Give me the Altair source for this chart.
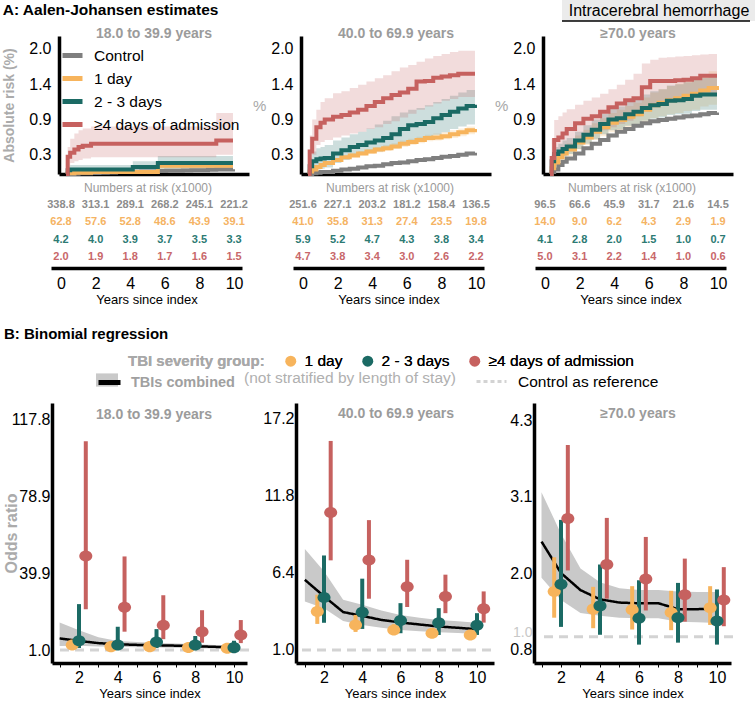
import altair as alt
import pandas as pd

FONT = "Liberation Sans"

# ---------------- labels / categories ----------------
PANELS = ["18.0 to 39.9 years", "40.0 to 69.9 years", "≥70.0 years"]
STRIP_LABEL = "Intracerebral hemorrhage"
GROUPS_A = ["Control", "1 day", "2 - 3 days", "≥4 days of admission"]
GROUPS_B = ["1 day", "2 - 3 days", "≥4 days of admission"]
LINE_COLORS = ["#7f7f7f", "#f7b45c", "#1b6a64", "#c6615f"]
TABLE_COLORS = ["#8c8c8c", "#f5b363", "#2c7a73", "#c8676a"]
POINT_COLORS = ["#f7b45c", "#1b6a64", "#c6615f"]
COMB_LABEL = "TBIs combined"
CI_LABEL = "TBIs combined 95% CI"
REF_LABEL = "Control as reference"

# ---------------- A: Aalen-Johansen curves (absolute risk, %) ----------------
T_GRID = [0, 0.1, 0.25, 0.5, 0.75, 1, 1.5, 2, 2.5, 3, 3.5, 4, 4.5, 5, 5.5, 6, 6.5, 7, 7.5, 8, 8.5, 9, 9.5, 10]

A1_CONTROL = [0, 0, 0, 0.005, 0.01, 0.01, 0.015, 0.02, 0.025, 0.03, 0.03, 0.035, 0.04, 0.04, 0.045, 0.05, 0.05, 0.055, 0.06, 0.06, 0.065, 0.07, 0.07, 0.075]
A1_CONTROL_LO = [0, 0, 0, 0, 0, 0, 0.005, 0.01, 0.015, 0.02, 0.02, 0.025, 0.03, 0.03, 0.035, 0.04, 0.04, 0.045, 0.05, 0.05, 0.055, 0.06, 0.06, 0.065]
A1_CONTROL_HI = [0, 0.005, 0.01, 0.015, 0.02, 0.02, 0.025, 0.03, 0.035, 0.04, 0.04, 0.045, 0.05, 0.05, 0.055, 0.06, 0.06, 0.065, 0.07, 0.07, 0.075, 0.08, 0.08, 0.085]
A1_DAY1 = [0, 0.01, 0.01, 0.02, 0.02, 0.02, 0.03, 0.03, 0.03, 0.03, 0.03, 0.03, 0.03, 0.03, 0.13, 0.13, 0.13, 0.13, 0.13, 0.13, 0.13, 0.13, 0.13, 0.13]
A1_DAY1_LO = [0, 0, 0, 0, 0, 0, 0.01, 0.01, 0.01, 0.01, 0.01, 0.01, 0.01, 0.01, 0.07, 0.07, 0.07, 0.07, 0.07, 0.07, 0.07, 0.07, 0.07, 0.07]
A1_DAY1_HI = [0, 0.03, 0.04, 0.05, 0.06, 0.06, 0.07, 0.07, 0.07, 0.07, 0.07, 0.07, 0.07, 0.07, 0.2, 0.2, 0.2, 0.2, 0.2, 0.2, 0.2, 0.2, 0.2, 0.2]
A1_DAY23 = [0, 0.06, 0.07, 0.07, 0.07, 0.07, 0.07, 0.07, 0.07, 0.07, 0.07, 0.11, 0.11, 0.11, 0.17, 0.17, 0.17, 0.17, 0.17, 0.17, 0.17, 0.17, 0.17, 0.17]
A1_DAY23_LO = [0, 0.01, 0.02, 0.02, 0.02, 0.02, 0.02, 0.02, 0.02, 0.02, 0.02, 0.04, 0.04, 0.04, 0.08, 0.08, 0.08, 0.08, 0.08, 0.08, 0.08, 0.08, 0.08, 0.08]
A1_DAY23_HI = [0, 0.12, 0.14, 0.14, 0.14, 0.14, 0.14, 0.14, 0.14, 0.14, 0.14, 0.2, 0.2, 0.2, 0.28, 0.28, 0.28, 0.28, 0.28, 0.28, 0.28, 0.28, 0.28, 0.28]
A1_DAY4 = [0, 0.27, 0.33, 0.38, 0.42, 0.44, 0.47, 0.47, 0.47, 0.47, 0.47, 0.47, 0.47, 0.47, 0.47, 0.47, 0.47, 0.47, 0.47, 0.47, 0.47, 0.52, 0.52, 0.52]
A1_DAY4_LO = [0, 0.12, 0.17, 0.2, 0.22, 0.24, 0.26, 0.26, 0.26, 0.26, 0.26, 0.26, 0.26, 0.26, 0.26, 0.26, 0.26, 0.26, 0.26, 0.26, 0.26, 0.3, 0.3, 0.3]
A1_DAY4_HI = [0, 0.42, 0.55, 0.63, 0.68, 0.71, 0.74, 0.74, 0.74, 0.74, 0.74, 0.74, 0.74, 0.74, 0.74, 0.74, 0.74, 0.74, 0.74, 0.74, 0.74, 0.95, 0.95, 0.95]

A2_CONTROL = [0, 0, 0.01, 0.02, 0.03, 0.03, 0.05, 0.07, 0.08, 0.10, 0.12, 0.13, 0.15, 0.17, 0.18, 0.20, 0.22, 0.23, 0.25, 0.27, 0.28, 0.30, 0.32, 0.33]
A2_CONTROL_LO = [0, 0, 0, 0.01, 0.02, 0.02, 0.04, 0.06, 0.07, 0.09, 0.11, 0.12, 0.14, 0.16, 0.17, 0.19, 0.21, 0.22, 0.24, 0.26, 0.27, 0.29, 0.31, 0.32]
A2_CONTROL_HI = [0, 0.01, 0.02, 0.03, 0.04, 0.04, 0.06, 0.08, 0.09, 0.11, 0.13, 0.14, 0.16, 0.18, 0.19, 0.21, 0.23, 0.24, 0.26, 0.28, 0.29, 0.31, 0.33, 0.34]
A2_DAY1 = [0, 0.04, 0.07, 0.11, 0.14, 0.17, 0.22, 0.26, 0.29, 0.32, 0.35, 0.38, 0.40, 0.43, 0.47, 0.50, 0.53, 0.56, 0.57, 0.59, 0.62, 0.65, 0.68, 0.70]
A2_DAY1_LO = [0, 0.02, 0.05, 0.09, 0.11, 0.14, 0.19, 0.23, 0.26, 0.29, 0.31, 0.34, 0.36, 0.39, 0.42, 0.45, 0.48, 0.51, 0.52, 0.54, 0.56, 0.59, 0.62, 0.64]
A2_DAY1_HI = [0, 0.06, 0.09, 0.13, 0.17, 0.20, 0.25, 0.29, 0.33, 0.36, 0.39, 0.42, 0.45, 0.48, 0.52, 0.55, 0.58, 0.61, 0.63, 0.65, 0.68, 0.71, 0.74, 0.76]
A2_DAY23 = [0, 0.12, 0.20, 0.23, 0.24, 0.25, 0.32, 0.37, 0.42, 0.45, 0.49, 0.52, 0.56, 0.62, 0.70, 0.76, 0.78, 0.81, 0.87, 0.92, 0.97, 1.02, 1.06, 1.08]
A2_DAY23_LO = [0, 0.02, 0.04, 0.07, 0.08, 0.10, 0.17, 0.22, 0.27, 0.30, 0.33, 0.35, 0.39, 0.42, 0.47, 0.51, 0.54, 0.57, 0.61, 0.65, 0.70, 0.74, 0.77, 0.79]
A2_DAY23_HI = [0, 0.25, 0.35, 0.40, 0.42, 0.45, 0.52, 0.57, 0.62, 0.66, 0.71, 0.77, 0.83, 0.90, 0.96, 1.00, 1.03, 1.07, 1.12, 1.17, 1.22, 1.27, 1.31, 1.33]
A2_DAY4 = [0, 0.35, 0.55, 0.73, 0.80, 0.85, 0.89, 0.92, 0.96, 1.00, 1.06, 1.12, 1.18, 1.23, 1.27, 1.33, 1.44, 1.45, 1.50, 1.52, 1.54, 1.56, 1.56, 1.56]
A2_DAY4_LO = [0, 0.15, 0.30, 0.45, 0.50, 0.53, 0.57, 0.60, 0.63, 0.66, 0.70, 0.73, 0.78, 0.82, 0.88, 0.94, 1.00, 1.05, 1.10, 1.14, 1.17, 1.20, 1.20, 1.20]
A2_DAY4_HI = [0, 0.60, 0.85, 1.00, 1.12, 1.18, 1.26, 1.29, 1.34, 1.39, 1.44, 1.49, 1.54, 1.60, 1.66, 1.70, 1.75, 1.80, 1.84, 1.87, 1.90, 1.92, 1.92, 1.92]

A3_CONTROL = [0, 0.03, 0.07, 0.14, 0.19, 0.24, 0.32, 0.40, 0.47, 0.53, 0.60, 0.66, 0.70, 0.75, 0.79, 0.82, 0.84, 0.86, 0.88, 0.90, 0.91, 0.93, 0.95, 0.96]
A3_CONTROL_LO = [0, 0.01, 0.05, 0.12, 0.17, 0.22, 0.30, 0.38, 0.44, 0.50, 0.57, 0.63, 0.67, 0.72, 0.76, 0.79, 0.81, 0.83, 0.85, 0.87, 0.88, 0.90, 0.92, 0.93]
A3_CONTROL_HI = [0, 0.05, 0.09, 0.16, 0.21, 0.26, 0.34, 0.42, 0.50, 0.56, 0.63, 0.69, 0.73, 0.78, 0.82, 0.85, 0.87, 0.89, 0.91, 0.93, 0.94, 0.96, 0.98, 0.99]
A3_DAY1 = [0, 0.09, 0.18, 0.26, 0.32, 0.38, 0.49, 0.57, 0.66, 0.73, 0.80, 0.84, 0.89, 0.93, 1.00, 1.07, 1.11, 1.15, 1.18, 1.22, 1.25, 1.30, 1.34, 1.37]
A3_DAY1_LO = [0, 0.05, 0.11, 0.18, 0.23, 0.28, 0.38, 0.45, 0.53, 0.59, 0.65, 0.68, 0.72, 0.75, 0.81, 0.87, 0.90, 0.93, 0.95, 0.98, 1.00, 1.05, 1.08, 1.10]
A3_DAY1_HI = [0, 0.14, 0.25, 0.34, 0.41, 0.48, 0.60, 0.69, 0.79, 0.87, 0.95, 1.00, 1.06, 1.11, 1.19, 1.27, 1.32, 1.37, 1.41, 1.46, 1.50, 1.55, 1.60, 1.64]
A3_DAY23 = [0, 0.20, 0.31, 0.35, 0.39, 0.43, 0.52, 0.61, 0.69, 0.78, 0.85, 0.87, 0.93, 0.97, 1.03, 1.07, 1.09, 1.14, 1.15, 1.17, 1.22, 1.24, 1.24, 1.24]
A3_DAY23_LO = [0, 0.12, 0.21, 0.25, 0.28, 0.31, 0.39, 0.47, 0.54, 0.62, 0.68, 0.70, 0.75, 0.78, 0.83, 0.86, 0.88, 0.92, 0.93, 0.94, 0.98, 1.00, 1.00, 1.00]
A3_DAY23_HI = [0, 0.30, 0.42, 0.47, 0.52, 0.56, 0.66, 0.76, 0.85, 0.94, 1.02, 1.05, 1.12, 1.17, 1.24, 1.29, 1.32, 1.38, 1.40, 1.43, 1.48, 1.50, 1.51, 1.52]
A3_DAY4 = [0, 0.25, 0.53, 0.57, 0.63, 0.70, 0.79, 0.86, 0.90, 0.97, 1.04, 1.10, 1.15, 1.18, 1.35, 1.45, 1.45, 1.45, 1.46, 1.47, 1.49, 1.53, 1.53, 1.53]
A3_DAY4_LO = [0, 0.08, 0.27, 0.33, 0.39, 0.44, 0.52, 0.57, 0.63, 0.68, 0.73, 0.78, 0.83, 0.90, 1.02, 1.07, 1.09, 1.12, 1.15, 1.17, 1.20, 1.22, 1.24, 1.25]
A3_DAY4_HI = [0, 0.55, 0.84, 0.90, 0.96, 1.01, 1.08, 1.14, 1.19, 1.25, 1.32, 1.39, 1.47, 1.56, 1.72, 1.78, 1.81, 1.82, 1.83, 1.84, 1.85, 1.86, 1.87, 1.87]

A_TICKS = [0.3, 0.85, 1.4, 1.95]
A_TICK_LABELS = ["0.3", "0.9", "1.4", "2.0"]

# ---------------- numbers at risk (x1000) ----------------
RISK_YEARS = [0, 2, 4, 6, 8, 10]
A1_RISK_CONTROL = [338.8, 313.1, 289.1, 268.2, 245.1, 221.2]
A1_RISK_DAY1 = [62.8, 57.6, 52.8, 48.6, 43.9, 39.1]
A1_RISK_DAY23 = [4.2, 4.0, 3.9, 3.7, 3.5, 3.3]
A1_RISK_DAY4 = [2.0, 1.9, 1.8, 1.7, 1.6, 1.5]
A2_RISK_CONTROL = [251.6, 227.1, 203.2, 181.2, 158.4, 136.5]
A2_RISK_DAY1 = [41.0, 35.8, 31.3, 27.4, 23.5, 19.8]
A2_RISK_DAY23 = [5.9, 5.2, 4.7, 4.3, 3.8, 3.4]
A2_RISK_DAY4 = [4.7, 3.8, 3.4, 3.0, 2.6, 2.2]
A3_RISK_CONTROL = [96.5, 66.6, 45.9, 31.7, 21.6, 14.5]
A3_RISK_DAY1 = [14.0, 9.0, 6.2, 4.3, 2.9, 1.9]
A3_RISK_DAY23 = [4.1, 2.8, 2.0, 1.5, 1.0, 0.7]
A3_RISK_DAY4 = [5.0, 3.1, 2.2, 1.4, 1.0, 0.6]

# ---------------- B: binomial regression (odds ratios) ----------------
B_YEARS = [2, 4, 6, 8, 10]
COMB_YEARS = [1, 2, 3, 4, 5, 6, 7, 8, 9, 10]
B_XTICKS = [1, 2, 3, 4, 5, 6, 7, 8, 9, 10]
REF_OR = [1.0]

B1_DAY1_OR = [3.5, 2.7, 2.7, 2.3, 1.9]
B1_DAY1_LO = [1.8, 1.6, 1.6, 1.4, 1.2]
B1_DAY1_HI = [6.0, 4.5, 4.4, 3.8, 3.0]
B1_DAY23_OR = [5.7, 3.5, 5.0, 3.5, 2.2]
B1_DAY23_LO = [2.0, 1.5, 2.0, 1.5, 1.0]
B1_DAY23_HI = [24.3, 12.8, 11.6, 8.1, 5.7]
B1_DAY4_OR = [48.7, 22.7, 13.6, 10.3, 8.6]
B1_DAY4_LO = [21.7, 10.3, 6.5, 4.7, 4.5]
B1_DAY4_HI = [107.0, 48.5, 28.8, 21.2, 16.2]
B1_COMB = [6.9, 5.6, 4.5, 3.9, 3.6, 3.4, 3.2, 2.9, 2.6, 2.3]
B1_COMB_LO = [3.0, 3.2, 2.8, 2.6, 2.4, 2.3, 2.1, 1.9, 1.7, 1.5]
B1_COMB_HI = [14.9, 11.0, 7.5, 5.6, 5.0, 4.6, 4.3, 3.9, 3.6, 3.3]

B2_DAY1_OR = [3.69, 2.75, 2.40, 2.17, 2.05]
B2_DAY1_LO = [2.82, 2.26, 2.05, 1.90, 1.80]
B2_DAY1_HI = [4.86, 3.45, 2.80, 2.50, 2.35]
B2_DAY23_OR = [4.67, 3.64, 3.06, 2.90, 2.73]
B2_DAY23_LO = [2.90, 2.47, 2.17, 2.05, 2.05]
B2_DAY23_HI = [7.60, 5.98, 4.27, 3.92, 3.57]
B2_DAY4_OR = [10.6, 7.29, 5.42, 4.74, 3.88]
B2_DAY4_LO = [7.26, 4.58, 4.00, 3.57, 2.91]
B2_DAY4_HI = [15.6, 10.07, 7.30, 6.26, 5.09]
B2_COMB = [5.9, 4.75, 3.65, 3.38, 3.1, 2.92, 2.78, 2.64, 2.55, 2.45]
B2_COMB_LO = [4.39, 3.92, 3.03, 2.75, 2.55, 2.4, 2.3, 2.24, 2.18, 2.12]
B2_COMB_HI = [8.06, 6.49, 4.5, 4.16, 3.75, 3.45, 3.25, 3.1, 3.0, 2.91]

B3_DAY1_OR = [1.69, 1.42, 1.41, 1.37, 1.44]
B3_DAY1_LO = [1.29, 1.13, 1.11, 1.10, 1.18]
B3_DAY1_HI = [2.21, 1.76, 1.77, 1.70, 1.77]
B3_DAY23_OR = [1.80, 1.47, 1.28, 1.29, 1.24]
B3_DAY23_LO = [1.15, 1.03, 0.88, 0.91, 0.88]
B3_DAY23_HI = [2.78, 2.10, 1.86, 1.82, 1.72]
B3_DAY4_OR = [2.80, 2.10, 1.88, 1.64, 1.56]
B3_DAY4_LO = [2.01, 1.58, 1.40, 1.23, 1.16]
B3_DAY4_HI = [3.92, 2.81, 2.52, 2.19, 2.06]
B3_COMB = [2.45, 1.97, 1.71, 1.57, 1.52, 1.51, 1.51, 1.42, 1.42, 1.43]
B3_COMB_LO = [1.90, 1.56, 1.36, 1.32, 1.29, 1.28, 1.28, 1.23, 1.22, 1.21]
B3_COMB_HI = [3.20, 2.57, 2.04, 1.83, 1.74, 1.71, 1.71, 1.69, 1.68, 1.68]

B1_YTICKS = [1.0, 39.93, 78.87, 117.8]
B2_YTICKS = [1.0, 6.4, 11.8, 17.2]
B3_YTICKS = [0.8, 1.0, 1.967, 3.133, 4.3]

# ---------------- layout parameters ----------------
PW = 190
A_H = 138
T_H = 70
B_H = 260
HEAD_H = 93
A_XDOM = [-0.42, 10.96]
A_YDOM = [0, 2.15]
T_XDOM = [-0.578, 10.46]
T_XRANGE = [-8, 183]
B_YDOMS = [[-5.6, 126.4], [0.09, 18.25], [0.60, 4.56]]
B_XDOMS = [[0.606, 10.67], [0.536, 10.89], [0.615, 10.72]]
B_XRANGES = [[-7, 188], [-5, 193], [-9, 188]]
B_YOFFSETS = [7, 5, 9]
ELLIPSE = "M -1 0 A 1 0.85 0 1 0 1 0 A 1 0.85 0 1 0 -1 0 Z"
DODGE_EXPR = ("datum.year + (datum.group == '1 day' ? -0.35 : "
              "(datum.group == '2 - 3 days' ? 0 : 0.35))")
TITLE_GRAY = "#9b9b9b"


def a_frame(series):
    rows = []
    for g, (v, lo, hi) in zip(GROUPS_A, series):
        for t, a, b, c in zip(T_GRID, v, lo, hi):
            rows.append({"t": t, "group": g, "v": a, "lo": b, "hi": c})
    return pd.DataFrame(rows)


def risk_frame(series):
    rows = []
    for g, vals in zip(GROUPS_A, series):
        for yr, n in zip(RISK_YEARS, vals):
            rows.append({"year": yr, "group": g, "n": n})
    return pd.DataFrame(rows)


def b_frame(series):
    rows = []
    for g, (o, lo, hi) in zip(GROUPS_B, series):
        for yr, a, b, c in zip(B_YEARS, o, lo, hi):
            rows.append({"year": yr, "group": g, "or": a, "lo": b, "hi": c})
    return pd.DataFrame(rows)


def comb_frame(est, lo, hi):
    n = len(COMB_YEARS)
    return pd.DataFrame({"year": COMB_YEARS, "est": est, "lo": lo, "hi": hi,
                         "lab": [COMB_LABEL] * n, "ci": [CI_LABEL] * n})


A_DATA = [
    a_frame([(A1_CONTROL, A1_CONTROL_LO, A1_CONTROL_HI), (A1_DAY1, A1_DAY1_LO, A1_DAY1_HI),
             (A1_DAY23, A1_DAY23_LO, A1_DAY23_HI), (A1_DAY4, A1_DAY4_LO, A1_DAY4_HI)]),
    a_frame([(A2_CONTROL, A2_CONTROL_LO, A2_CONTROL_HI), (A2_DAY1, A2_DAY1_LO, A2_DAY1_HI),
             (A2_DAY23, A2_DAY23_LO, A2_DAY23_HI), (A2_DAY4, A2_DAY4_LO, A2_DAY4_HI)]),
    a_frame([(A3_CONTROL, A3_CONTROL_LO, A3_CONTROL_HI), (A3_DAY1, A3_DAY1_LO, A3_DAY1_HI),
             (A3_DAY23, A3_DAY23_LO, A3_DAY23_HI), (A3_DAY4, A3_DAY4_LO, A3_DAY4_HI)]),
]
RISK_DATA = [
    risk_frame([A1_RISK_CONTROL, A1_RISK_DAY1, A1_RISK_DAY23, A1_RISK_DAY4]),
    risk_frame([A2_RISK_CONTROL, A2_RISK_DAY1, A2_RISK_DAY23, A2_RISK_DAY4]),
    risk_frame([A3_RISK_CONTROL, A3_RISK_DAY1, A3_RISK_DAY23, A3_RISK_DAY4]),
]
B_DATA = [
    b_frame([(B1_DAY1_OR, B1_DAY1_LO, B1_DAY1_HI), (B1_DAY23_OR, B1_DAY23_LO, B1_DAY23_HI),
             (B1_DAY4_OR, B1_DAY4_LO, B1_DAY4_HI)]),
    b_frame([(B2_DAY1_OR, B2_DAY1_LO, B2_DAY1_HI), (B2_DAY23_OR, B2_DAY23_LO, B2_DAY23_HI),
             (B2_DAY4_OR, B2_DAY4_LO, B2_DAY4_HI)]),
    b_frame([(B3_DAY1_OR, B3_DAY1_LO, B3_DAY1_HI), (B3_DAY23_OR, B3_DAY23_LO, B3_DAY23_HI),
             (B3_DAY4_OR, B3_DAY4_LO, B3_DAY4_HI)]),
]
COMB_DATA = [
    comb_frame(B1_COMB, B1_COMB_LO, B1_COMB_HI),
    comb_frame(B2_COMB, B2_COMB_LO, B2_COMB_HI),
    comb_frame(B3_COMB, B3_COMB_LO, B3_COMB_HI),
]
REF_DATA = pd.DataFrame({"or": REF_OR, "ref": [REF_LABEL]})
B_YTICKS = [B1_YTICKS, B2_YTICKS, B3_YTICKS]


def tick_label_expr(values, labels):
    return "".join(f"abs(datum.value - {v}) < 0.001 ? '{l}' : " for v, l in zip(values, labels)) + "''"


# ---------------- A panels ----------------
def a_panel(i):
    df = A_DATA[i]
    first = i == 0
    x = alt.X("t:Q", scale=alt.Scale(domain=A_XDOM, nice=False, zero=False),
              axis=alt.Axis(title=None, labels=False, ticks=False, grid=False,
                            domainColor="black", domainWidth=3.5))
    ycommon = dict(values=A_TICKS, labelExpr=tick_label_expr(A_TICKS, A_TICK_LABELS),
                   ticks=False, grid=False, domainColor="black", domainWidth=3.5,
                   labelFontSize=16, labelColor="black", labelPadding=8, labelOverlap=False)
    if first:
        yaxis = alt.Axis(title="Absolute risk (%)", titleColor="#ababab", titleFontWeight="bold",
                         titleFontSize=14, titlePadding=12, **ycommon)
    else:
        yaxis = alt.Axis(title="%", titleAngle=0, titleAlign="right", titleBaseline="middle",
                         titleColor="#a8a8a8", titleFontWeight="normal", titleFontSize=15,
                         titlePadding=5, **ycommon)
    yscale = alt.Scale(domain=A_YDOM, nice=False, zero=False)
    cscale = alt.Scale(domain=GROUPS_A, range=LINE_COLORS)
    if first:
        leg = alt.Legend(title=None, orient="none", legendX=1, legendY=7, symbolType="stroke",
                         symbolSize=400, symbolStrokeWidth=5, symbolOpacity=1, labelFontSize=15.5,
                         labelColor="black", labelOffset=9, rowPadding=-3, padding=0, labelLimit=300)
    else:
        leg = None
    band = alt.Chart(df).mark_area(interpolate="step-after", fillOpacity=0.22).encode(
        x=x, y=alt.Y("lo:Q", scale=yscale, axis=yaxis), y2="hi:Q",
        fill=alt.Fill("group:N", scale=cscale, legend=leg))
    line = alt.Chart(df).mark_line(interpolate="step-after", strokeWidth=4).encode(
        x=x, y=alt.Y("v:Q", scale=yscale, axis=yaxis),
        stroke=alt.Stroke("group:N", scale=cscale, legend=leg))
    layers = [band, line]
    title_offset = -4.5
    if i == 2:
        sdf = pd.DataFrame({"label": [STRIP_LABEL]})
        box = alt.Chart(sdf).mark_rect(color="#ebebeb").encode(
            x=alt.value(19), x2=alt.value(212), y=alt.value(-36), y2=alt.value(-15))
        uline = alt.Chart(sdf).mark_rule(color="black", strokeWidth=1.5).encode(
            x=alt.value(19), x2=alt.value(207), y=alt.value(-15))
        txt = alt.Chart(sdf).mark_text(fontSize=16, color="black", font=FONT).encode(
            text="label:N", x=alt.value(116), y=alt.value(-25))
        layers = [box, uline, txt] + layers
        title_offset = -40.5
    return alt.layer(*layers).properties(
        width=PW, height=A_H,
        title=alt.TitleParams(PANELS[i], fontSize=14, fontWeight="bold", color=TITLE_GRAY,
                              offset=title_offset, frame="group", font=FONT))


def table_panel(i):
    return alt.Chart(RISK_DATA[i]).mark_text(fontSize=11, fontWeight="bold", font=FONT).encode(
        x=alt.X("year:Q", scale=alt.Scale(domain=T_XDOM, range=T_XRANGE, nice=False, zero=False),
                axis=alt.Axis(values=RISK_YEARS, format="d", title="Years since index", ticks=False,
                              tickSize=0, grid=False, domainColor="black", domainWidth=3.5,
                              labelFontSize=16, labelColor="black", labelPadding=7,
                              titleFontSize=13, titleFontWeight="normal", titleColor="black",
                              titlePadding=2, offset=2)),
        y=alt.Y("group:N", sort=GROUPS_A, axis=None),
        color=alt.Color("group:N", scale=alt.Scale(domain=GROUPS_A, range=TABLE_COLORS), legend=None),
        text=alt.Text("n:Q", format=".1f"),
    ).properties(width=PW, height=T_H,
                 title=alt.TitleParams("Numbers at risk (x1000)", fontSize=12, fontWeight="normal",
                                       color="#9a9a9a", offset=1, dx=-6, frame="group", font=FONT))


# ---------------- B panels ----------------
def b_panel(i):
    first = i == 0
    xscale = alt.Scale(domain=B_XDOMS[i], range=B_XRANGES[i], nice=False, zero=False)
    xaxis = alt.Axis(values=B_XTICKS, format="d", labelExpr="datum.value % 2 == 0 ? datum.label : ''",
                     title="Years since index", tickColor="black", tickSize=4, tickWidth=1, grid=False,
                     domainColor="black", domainWidth=3.5, labelFontSize=16, labelColor="black",
                     labelPadding=2, titleFontSize=13, titleFontWeight="normal", titleColor="black",
                     titlePadding=2)
    yscale = alt.Scale(domain=B_YDOMS[i], nice=False, zero=False)
    yprops = dict(values=B_YTICKS[i], format=".1f", ticks=False, grid=False, domainColor="black",
                  domainWidth=3.5, labelPadding=2, labelOverlap=False, offset=B_YOFFSETS[i])
    if i == 2:
        ref_test = "abs(datum.value - 1) < 0.001"
        yprops["labelColor"] = {"condition": {"test": ref_test, "value": "#c8c8c8"}, "value": "black"}
        yprops["labelFontSize"] = {"condition": {"test": ref_test, "value": 14}, "value": 16}
        yprops["labelBaseline"] = {"condition": {"test": ref_test, "value": "alphabetic"}, "value": "middle"}
    else:
        yprops["labelColor"] = "black"
        yprops["labelFontSize"] = 16
    if first:
        yaxis = alt.Axis(title="Odds ratio", titleColor="#ababab", titleFontWeight="bold",
                         titleFontSize=16, titlePadding=-8, **yprops)
    else:
        yaxis = alt.Axis(title=None, **yprops)
    gscale = alt.Scale(domain=GROUPS_B, range=POINT_COLORS)

    if first:
        ref_leg = alt.Legend(title="(not stratified by length of stay)", titleOrient="left",
                             titleAnchor="middle", titleBaseline="middle",
                             titleFontWeight="normal", titleColor="#b0b0b0", titleFontSize=15.5,
                             titlePadding=19, titleLimit=400, orient="none", legendX=185, legendY=-38,
                             symbolType="stroke", symbolSize=900, symbolStrokeWidth=3,
                             symbolDash=[4, 3], labelFontSize=15.5,
                             labelColor="black", labelOffset=10, labelLimit=300, padding=0)
        ci_leg = alt.Legend(title=None, orient="none", legendX=37, legendY=-34,
                            symbolType="M -1 -0.6 H 1 V 0.6 H -1 Z", symbolSize=484,
                            symbolStrokeWidth=0, labelExpr="''",
                            labelFontSize=14.5, labelOffset=8, padding=0, zindex=1)
        line_leg = alt.Legend(title=None, orient="none", legendX=37, legendY=-34,
                              symbolType="stroke", symbolSize=484, symbolStrokeWidth=5,
                              symbolStrokeColor="black", labelFontWeight="bold", labelColor="#a0a0a0",
                              labelFontSize=14.5, labelOffset=8, labelLimit=300, padding=0, zindex=2)
        pleg = alt.Legend(title="TBI severity group:", titleOrient="left", titleAnchor="middle",
                          titleBaseline="middle", titleFontWeight="bold", titleColor="#a8a8a8",
                          titleFontSize=15, titlePadding=18, titleLimit=400, orient="none",
                          legendX=69, legendY=-50, direction="horizontal", columns=3,
                          symbolType="circle", symbolSize=121, symbolStrokeWidth=0,
                          labelFontSize=15.5, labelColor="black", labelOffset=6, labelLimit=300,
                          columnPadding=17, padding=0)
    else:
        ref_leg = ci_leg = line_leg = pleg = None

    ref = alt.Chart(REF_DATA).mark_rule(strokeWidth=3, strokeDash=[9, 6]).encode(
        y=alt.Y("or:Q", scale=yscale, axis=yaxis),
        color=alt.Color("ref:N", scale=alt.Scale(range=["#d3d3d3"]), legend=ref_leg))
    band = alt.Chart(COMB_DATA[i]).mark_area().encode(
        x=alt.X("year:Q", scale=xscale, axis=xaxis),
        y=alt.Y("lo:Q", scale=yscale, axis=yaxis), y2="hi:Q",
        fill=alt.Fill("ci:N", scale=alt.Scale(range=["#c9c9c9"]), legend=ci_leg))
    line = alt.Chart(COMB_DATA[i]).mark_line(color="black", strokeWidth=2.5).encode(
        x=alt.X("year:Q", scale=xscale, axis=xaxis),
        y=alt.Y("est:Q", scale=yscale, axis=yaxis),
        strokeDash=alt.StrokeDash("lab:N", scale=alt.Scale(range=[[1, 0]]), legend=line_leg))
    pts = alt.Chart(B_DATA[i]).transform_calculate(xpos=DODGE_EXPR)
    bars = pts.mark_rule(strokeWidth=4).encode(
        x=alt.X("xpos:Q", scale=xscale, axis=xaxis),
        y=alt.Y("lo:Q", scale=yscale, axis=yaxis), y2="hi:Q",
        stroke=alt.Stroke("group:N", scale=gscale, legend=pleg))
    dots = pts.mark_point(filled=True, shape=ELLIPSE, size=170, opacity=1).encode(
        x=alt.X("xpos:Q", scale=xscale, axis=xaxis),
        y=alt.Y("or:Q", scale=yscale, axis=yaxis),
        fill=alt.Fill("group:N", scale=gscale, legend=pleg))
    title_offset = -69 if first else -18
    return alt.layer(ref, band, line, bars, dots).resolve_scale(fill="independent").properties(
        width=PW, height=B_H,
        title=alt.TitleParams(PANELS[i], fontSize=14, fontWeight="bold", color=TITLE_GRAY,
                              offset=title_offset, frame="group", font=FONT))


def spacer(title=None):
    c = alt.Chart(pd.DataFrame({"h": [""]})).mark_text().encode(text="h:N")
    if title is not None:
        return c.properties(width=PW, height=HEAD_H, title=title)
    return c.properties(width=PW, height=HEAD_H)


b_header = spacer(alt.TitleParams("B: Binomial regression", anchor="start", frame="group",
                                  fontSize=15, fontWeight="bold", color="black", offset=-54,
                                  dx=-55, font=FONT))

cells = [a_panel(0), a_panel(1), a_panel(2),
         table_panel(0), table_panel(1), table_panel(2),
         b_header, spacer(), spacer(),
         b_panel(0), b_panel(1), b_panel(2)]

chart = alt.concat(*cells, columns=3, spacing={"row": 22, "column": 52}).properties(
    bounds="flush",
    padding={"left": 2, "top": 0, "right": 0, "bottom": 2},
    title=alt.TitleParams("A: Aalen-Johansen estimates", anchor="start", fontSize=15.5,
                          fontWeight="bold", color="black", offset=-18.5, font=FONT),
).resolve_scale(
    x="independent", y="independent", color="independent", fill="independent",
    stroke="independent", strokeDash="independent",
).configure(font=FONT).configure_view(stroke=None)

chart.save("out.html", embed_options={"renderer": "svg", "actions": False})
